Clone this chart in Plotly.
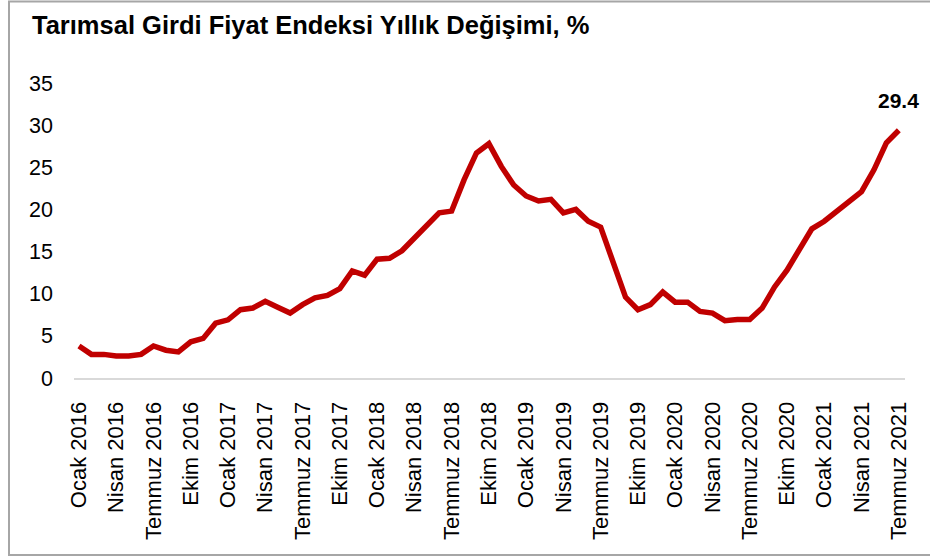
import plotly.graph_objects as go

months = ["Ocak", "Şubat", "Mart", "Nisan", "Mayıs", "Haziran",
          "Temmuz", "Ağustos", "Eylül", "Ekim", "Kasım", "Aralık"]

# Monthly periods Jan 2016 .. Jul 2021
periods = [f"{months[m]} {y}" for y in range(2016, 2022) for m in range(12)][:67]

values = [3.8, 2.8, 2.8, 2.6, 2.6, 2.8, 3.8, 3.3, 3.1, 4.3, 4.7, 6.5,
          6.9, 8.1, 8.3, 9.1, 8.4, 7.7, 8.7, 9.5, 9.8, 10.6, 12.7, 12.2,
          14.1, 14.2, 15.1, 16.6, 18.1, 19.6, 19.8, 23.5, 26.7, 27.8, 25.1, 22.9,
          21.6, 21.0, 21.2, 19.6, 20.0, 18.6, 17.9, 13.7, 9.6, 8.1, 8.7, 10.2,
          9.0, 9.0, 7.9, 7.7, 6.8, 6.95, 6.95, 8.3, 10.8, 12.8, 15.2, 17.7,
          18.6, 19.8, 21.0, 22.1, 24.7, 27.9, 29.4]

tick_labels = periods[::3]
y_ticks = [0, 5, 10, 15, 20, 25, 30, 35]

title_text = "Tarımsal Girdi Fiyat Endeksi Yıllık Değişimi, %"
last_label = "29.4"

FONT = "Liberation Sans, Arial, sans-serif"

W, H = 930, 559
L, R, T, B = 74, 25, 83, 181
pw, ph = W - L - R, H - T - B

def px_to_paper_x(px):
    return (px - L) / pw

def px_to_paper_y(py):
    return (H - B - py) / ph

fig = go.Figure()
fig.add_trace(go.Scatter(
    x=periods, y=values, mode="lines",
    line=dict(color="#c00000", width=5.5),
    hoverinfo="x+y", showlegend=False,
))

fig.add_annotation(
    x=periods[-1], y=values[-1], text=f"<b>{last_label}</b>",
    showarrow=False, xanchor="center", yanchor="middle", yshift=30,
    font=dict(family=FONT, size=21, color="black"),
)

fig.add_annotation(
    xref="paper", yref="paper",
    x=px_to_paper_x(30), y=px_to_paper_y(25),
    text=f"<b>{title_text}</b>", showarrow=False,
    xanchor="left", yanchor="middle",
    font=dict(family=FONT, size=25.5, color="black"),
)

fig.add_shape(
    type="rect", xref="paper", yref="paper",
    x0=px_to_paper_x(9), x1=px_to_paper_x(940),
    y0=px_to_paper_y(555), y1=px_to_paper_y(1.5),
    line=dict(color="#a6a6a6", width=2), fillcolor="rgba(0,0,0,0)",
    layer="below",
)

fig.update_layout(
    width=W, height=H,
    margin=dict(l=L, r=R, t=T, b=B, autoexpand=False),
    paper_bgcolor="white", plot_bgcolor="white",
    font=dict(family=FONT, size=22, color="black"),
    showlegend=False,
)

fig.update_xaxes(
    type="category",
    categoryorder="array", categoryarray=periods,
    range=[-0.4, len(periods) - 1 + 0.5],
    tickmode="array", tickvals=tick_labels, ticktext=tick_labels,
    tickangle=-90, ticks="", showgrid=False, zeroline=False,
    showline=True, linecolor="#d9d9d9", linewidth=2,
    ticklabelstandoff=13,
    tickfont=dict(family=FONT, size=22, color="black"),
)

fig.update_yaxes(
    range=[0, 35], tickmode="array", tickvals=y_ticks,
    ticks="", showgrid=False, zeroline=False, showline=False,
    ticklabelstandoff=20,
    tickfont=dict(family=FONT, size=21.5, color="black"),
)

fig.write_html(
    "out.html",
    config={"displayModeBar": False},
    post_script="document.body.style.margin='0';document.body.style.overflow='hidden';",
)
